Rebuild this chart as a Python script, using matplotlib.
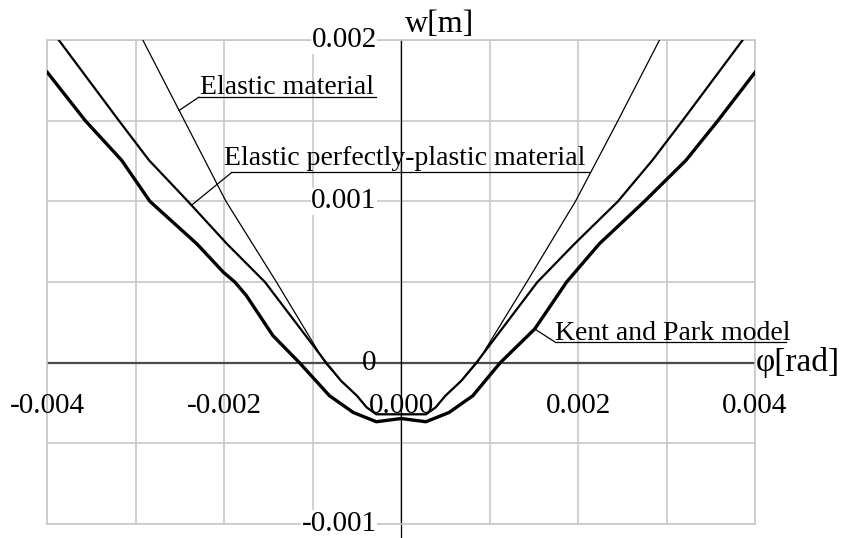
import numpy as np
import matplotlib
matplotlib.use("Agg")
import matplotlib.pyplot as plt

plt.rcParams['font.family'] = ['Liberation Serif', 'DejaVu Serif']

# ======================================================
# Data
# ======================================================

elastic_x = [-0.00292, -0.00245, -0.00198, -0.00141, -0.00086, -0.00068,
             -0.00050, -0.00039, -0.00028, 0.0, 0.00028, 0.00039, 0.00050,
             0.00068, 0.00086, 0.00142, 0.00197, 0.00245, 0.00292]
elastic_y = [0.0020, 0.0015, 0.0010, 0.0005, 0.0, -0.000112,
             -0.000205, -0.000277, -0.00032, -0.00032, -0.00032, -0.000277,
             -0.000205, -0.000112, 0.0, 0.0005, 0.0010, 0.0015, 0.0020]

epp_x = [-0.00387, -0.00319, -0.00285, -0.00241, -0.00197, -0.00154,
         -0.000847, -0.00068, -0.00050, -0.00039, -0.00028, 0.0, 0.00028,
         0.00039, 0.00050, 0.00068, 0.00085, 0.00154, 0.00196, 0.00245,
         0.00284, 0.00318, 0.00386]
epp_y = [0.0020, 0.0015, 0.001255, 0.0010, 0.000737, 0.0005,
         0.0, -0.000112, -0.000205, -0.000277, -0.00032, -0.00032, -0.00032,
         -0.000277, -0.000205, -0.000112, 0.0, 0.0005, 0.000737, 0.0010,
         0.001255, 0.0015, 0.0020]

kent_x = [-0.0040, -0.00357, -0.00316, -0.00284, -0.00231, -0.00201,
          -0.00188, -0.00175, -0.00145, -0.00115, -0.00081, -0.00054, -0.00028,
          0.0, 0.00028, 0.00054, 0.00081, 0.00112, 0.00151, 0.00187, 0.00224,
          0.00275, 0.00322, 0.00358, 0.0040]
kent_y = [0.0018, 0.0015, 0.001255, 0.0010, 0.000737, 0.000561,
          0.0005, 0.000416, 0.000168, 0.0, -0.000205, -0.000309, -0.000366,
          -0.000346, -0.000366, -0.000309, -0.000205, 0.0, 0.000209, 0.0005,
          0.000737, 0.0010, 0.001255, 0.0015, 0.0018]

x_label_pos = [-0.004, -0.002, 0.0, 0.002, 0.004]
x_label_txt = ["-0.004", "-0.002", "0.000", "0.002", "0.004"]
y_label_pos = [0.002, 0.001, 0.0, -0.001]
y_label_txt = ["0.002", "0.001", "0", "-0.001"]

# ======================================================
# Figure
# ======================================================

fig = plt.figure(figsize=(8.45, 5.38), dpi=100)
ax = fig.add_axes([0.056, 0.026, 0.8375, 0.8995])

ax.set_xlim(-0.004, 0.004)
ax.set_ylim(-0.001, 0.002)

grid_color = "#c8c8c8"
ax.set_xticks(np.arange(-0.004, 0.00401, 0.001))
ax.set_yticks(np.arange(-0.001, 0.00201, 0.0005))
ax.tick_params(length=0, labelbottom=False, labelleft=False)
ax.grid(True, color=grid_color, linewidth=1.2)
ax.set_axisbelow(True)
for s in ax.spines.values():
    s.set_color(grid_color)
    s.set_linewidth(1.2)

# axis lines
ax.axhline(0, color="#4a4a4a", linewidth=1.6, zorder=2)
ax.plot([0, 0], [-0.00110, 0.002], color="black", linewidth=0.9,
        clip_on=False, zorder=2)

# ----------------------------
# Curves
# ----------------------------

ax.plot(elastic_x, elastic_y, color="black", linewidth=0.9, zorder=3)
ax.plot(epp_x, epp_y, color="black", linewidth=1.6, zorder=3)
ax.plot(kent_x, kent_y, color="black", linewidth=2.4, zorder=3)

# ----------------------------
# Tick labels
# ----------------------------

for x, t in zip(x_label_pos, x_label_txt):
    ax.text(x, -0.00031, t, ha="center", va="baseline", fontsize=21,
            zorder=4, clip_on=False)

for y, t in zip(y_label_pos, y_label_txt):
    bbox = None if t == "0" else dict(facecolor="white", edgecolor="none", pad=0.5)
    ax.text(-0.000277, y, t, ha="right", va="center", fontsize=21,
            bbox=bbox, zorder=4, clip_on=False)

ax.text(0.00004, 0.00205, "w[m]", ha="left", va="baseline", fontsize=23,
        clip_on=False)
ax.text(0.004003, 0.0, "φ[rad]", ha="left", va="center", fontsize=24,
        clip_on=False)

# ----------------------------
# Curve labels with leader lines
# ----------------------------

def label(text, tx, ty, ux0, ux1, uy, curve_x, curve_y, ax_x):
    ay = np.interp(ax_x, curve_x, curve_y)
    ax.text(tx, ty, text, ha="left", va="baseline", fontsize=20,
            zorder=5, clip_on=False)
    ax.plot([ux0, ux1], [uy, uy], color="black", linewidth=0.9,
            clip_on=False, zorder=5)
    ax.plot([ax_x, ux0], [ay, uy], color="black", linewidth=0.9,
            clip_on=False, zorder=5)


label("Elastic material", -0.002276, 0.001663,
      -0.002287, -0.000288, 0.001646, elastic_x, elastic_y, -0.00251)
label("Elastic perfectly-plastic material", -0.002004, 0.001224,
      -0.001914, 0.002128, 0.00118, epp_x, epp_y, -0.00237)
label("Kent and Park model", 0.001734, 0.000141,
      0.001734, 0.004353, 0.00013, kent_x, kent_y, 0.00151)

fig.savefig("out.png", dpi=100)
